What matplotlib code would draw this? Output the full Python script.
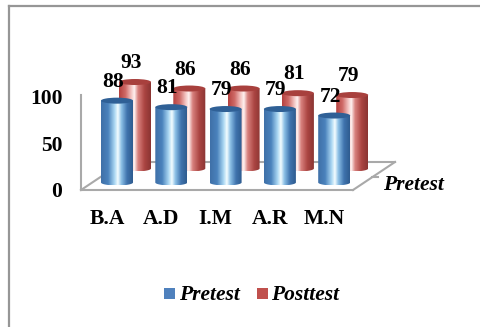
import numpy as np
import matplotlib
matplotlib.use("Agg")
import matplotlib.pyplot as plt
from matplotlib.colors import LinearSegmentedColormap
from matplotlib.path import Path
from matplotlib.patches import PathPatch, Ellipse, Rectangle

categories = ["B.A", "A.D", "I.M", "A.R", "M.N"]
pretest = [88, 81, 79, 79, 72]
posttest = [93, 86, 86, 81, 79]
ticks = [0, 50, 100]
series_names = ["Pretest", "Posttest"]
depth_label = "Pretest"

W, H = 480, 327
PX_X = 54.3          # pixels per category
PX_Y = 0.93          # pixels per value unit
X0, Y0 = 117, 182.5  # pixel position of first front bar base
FONT = "Liberation Serif"

fig = plt.figure(figsize=(W / 100, H / 100), dpi=100)
ax = fig.add_axes([0, 0, 1, 1])
ax.axis("off")

def px(x, y):
    """Pixel position (from the top left) to data coordinates."""
    return (x - X0) / PX_X, (Y0 - y) / PX_Y

xlim = (px(0, 0)[0], px(W, 0)[0])
ylim = (px(0, H)[1], px(0, 0)[1])

blue = LinearSegmentedColormap.from_list("b", [(0, "#3f70a8"), (0.22, "#4a82bc"), (0.42, "#a9d6f2"),
                                               (0.53, "#f4fdff"), (0.64, "#8cc0e6"), (0.82, "#3f73ad"), (1, "#2f5c8f")])
red = LinearSegmentedColormap.from_list("r", [(0, "#b5413f"), (0.2, "#cf6a67"), (0.38, "#f3c4c2"),
                                              (0.48, "#fff2f1"), (0.6, "#d8817e"), (0.8, "#ab4542"), (1, "#8a3533")])

def cylinder(i, v, xoff, yoff, cmap, top_col, z):
    half_w = 16 / PX_X
    ry = 3.0 / PX_Y
    cx = i + xoff / PX_X
    base = yoff / PX_Y
    top = base + v
    t = np.linspace(np.pi, 2 * np.pi, 40)
    bottom_pts = np.c_[cx + half_w * np.cos(t), base + ry * np.sin(t)]
    top_pts = np.array([[cx + half_w, top], [cx - half_w, top]])
    verts = np.vstack([bottom_pts, top_pts, bottom_pts[:1]])
    codes = [Path.MOVETO] + [Path.LINETO] * (len(verts) - 2) + [Path.CLOSEPOLY]
    clip = PathPatch(Path(verts, codes), transform=ax.transData, fc="none", ec="none")
    ax.add_patch(clip)
    im = ax.imshow(np.linspace(0, 1, 128)[None, :], cmap=cmap, aspect="auto",
                   extent=(cx - half_w, cx + half_w, base - ry, top), zorder=z)
    im.set_clip_path(clip)
    ax.add_patch(Ellipse((cx, top), 2 * half_w, 2 * ry, fc=top_col, ec="none", zorder=z + 0.1))

# floor and wall lines
grey = "#a9a9a9"
segments = [((81, 95), (81, 190)), ((81, 190), (353, 190)), ((353, 190), (395, 162)),
            ((395, 162), (123, 162)), ((81, 190), (123, 162)), ((372, 177), (378, 177))]
for a, b in segments:
    pa, pb = px(*a), px(*b)
    ax.plot([pa[0], pb[0]], [pa[1], pb[1]], color=grey, lw=1.5, zorder=1, solid_capstyle="projecting")

text = dict(family=FONT, weight="bold", fontsize=15.5, color="black")

for i, (a, b) in enumerate(zip(pretest, posttest)):
    cylinder(i, b, 18, 14, red, "#a8403d", 2 + i * 0.01)
for i, (a, b) in enumerate(zip(pretest, posttest)):
    cylinder(i, a, 0, 0, blue, "#2f6096", 3 + i * 0.01)

for i, v in enumerate(pretest):
    ax.annotate(str(v), (i, v), xytext=(-4 * 0.72, 19 * 0.72), textcoords="offset points",
                ha="center", va="center", zorder=6, **text)
for i, v in enumerate(posttest):
    ax.annotate(str(v), (i + 18 / PX_X, v + 14 / PX_Y), xytext=(-4 * 0.72, 19 * 0.72), textcoords="offset points",
                ha="center", va="center", zorder=6, **text)

for t in ticks:
    x, y = px(62.5, 0)[0], t - 10.5
    ax.text(x, y, str(t), ha="right", va="center", **text)

for i, c in enumerate(categories):
    ax.text(i - 10 / PX_X, px(0, 219)[1], c, ha="center", va="center", **text)

x, y = px(383, 185)
ax.text(x, y, depth_label, ha="left", va="center", style="italic", **text)

# legend
for name, col, sx, tx in zip(series_names, ["#4f81bd", "#c0504d"], [164, 257], [179, 271]):
    p = px(sx, 299)
    ax.add_patch(Rectangle(p, 11 / PX_X, 11 / PX_Y, fc=col, ec="none", zorder=5))
    x, y = px(tx, 295)
    ax.text(x, y, name, ha="left", va="center", style="italic", **text)

# outer frame
for a, b in [((8.5, 6), (480, 6)), ((8.5, 6), (8.5, 327))]:
    pa, pb = px(*a), px(*b)
    ax.plot([pa[0], pb[0]], [pa[1], pb[1]], color="#969696", lw=1.6, zorder=7, clip_on=False)

ax.set_xlim(*xlim)
ax.set_ylim(*ylim)
fig.savefig("out.png", dpi=100, facecolor="white")
